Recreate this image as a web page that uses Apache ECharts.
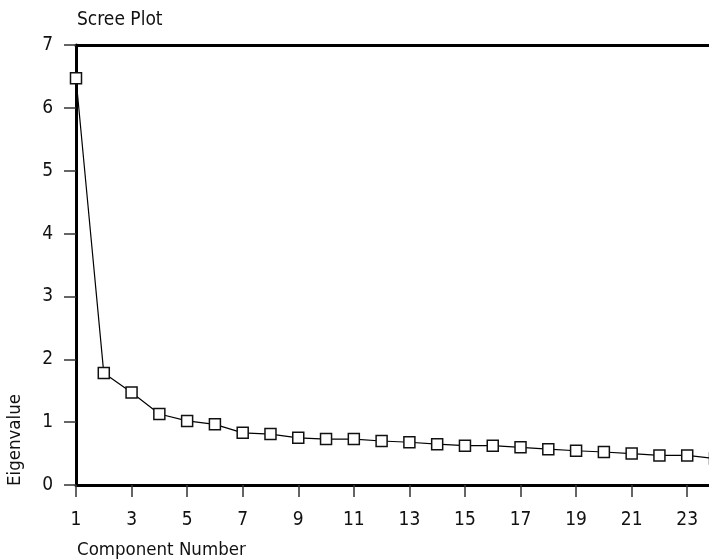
<!DOCTYPE html>
<html>
<head>
<meta charset="utf-8">
<script src="https://cdn.jsdelivr.net/npm/echarts@6/dist/echarts.min.js"></script>
<style>html,body{margin:0;padding:0;background:#fff}#c{width:709px;height:559px}</style>
</head>
<body>
<div id="c"></div>
<script>
var components = ['1','2','3','4','5','6','7','8','9','10','11','12','13','14','15','16','17','18','19','20','21','22','23','24'];
var eigenvalues = [6.47, 1.78, 1.47, 1.13, 1.02, 0.965, 0.83, 0.81, 0.75, 0.73, 0.73, 0.70, 0.68, 0.65, 0.625, 0.625, 0.60, 0.57, 0.545, 0.525, 0.50, 0.47, 0.47, 0.42];
var yTicks = [0, 1, 2, 3, 4, 5, 6, 7];

var FONT = '"DejaVu Sans Condensed", "Liberation Sans Narrow", "Liberation Sans", sans-serif';
var chart = echarts.init(document.getElementById('c'), null, {renderer: 'canvas'});
chart.setOption({
  animation: false,
  backgroundColor: '#fff',
  title: [
    {text: 'Scree Plot', left: 72, top: 6, textStyle: {fontFamily: FONT, fontSize: 19, fontWeight: 'normal', color: '#111'}},
    {text: 'Component Number', left: 72, top: 536, textStyle: {fontFamily: FONT, fontSize: 18.5, fontWeight: 'normal', color: '#111'}}
  ],
  graphic: [{
    type: 'text', x: 6, y: 486, rotation: Math.PI / 2,
    style: {text: 'Eigenvalue', font: '18.5px ' + FONT, fill: '#111', textAlign: 'left', textVerticalAlign: 'top'}
  }],
  grid: {left: 76, top: 45, width: 639, height: 440, show: false, outerBoundsMode: 'none', containLabel: false},
  xAxis: [{
    type: 'category', data: components, boundaryGap: false,
    axisLine: {show: true, lineStyle: {color: '#000', width: 3}},
    axisTick: {show: true, interval: 1, length: 12, lineStyle: {color: '#333', width: 1.5}},
    axisLabel: {interval: 1, margin: 26, fontFamily: FONT, fontSize: 19, color: '#111'},
    splitLine: {show: false}
  }, {
    type: 'category', data: components, boundaryGap: false, position: 'top',
    axisLine: {show: true, lineStyle: {color: '#000', width: 3}},
    axisTick: {show: false}, axisLabel: {show: false}
  }],
  yAxis: {
    type: 'value', min: yTicks[0], max: yTicks[yTicks.length - 1], interval: 1,
    axisLine: {show: true, lineStyle: {color: '#000', width: 3}},
    axisTick: {show: true, length: 12, lineStyle: {color: '#333', width: 1.5}},
    axisLabel: {margin: 23, padding: [5, 0, 0, 0], fontFamily: FONT, fontSize: 19, color: '#111'},
    splitLine: {show: false}
  },
  series: [{
    type: 'line', data: eigenvalues,
    symbol: 'rect', symbolSize: 11,
    lineStyle: {color: '#000', width: 1.2},
    itemStyle: {color: '#fff', borderColor: '#111', borderWidth: 1.5},
    z: 5
  }]
});
</script>
</body>
</html>
